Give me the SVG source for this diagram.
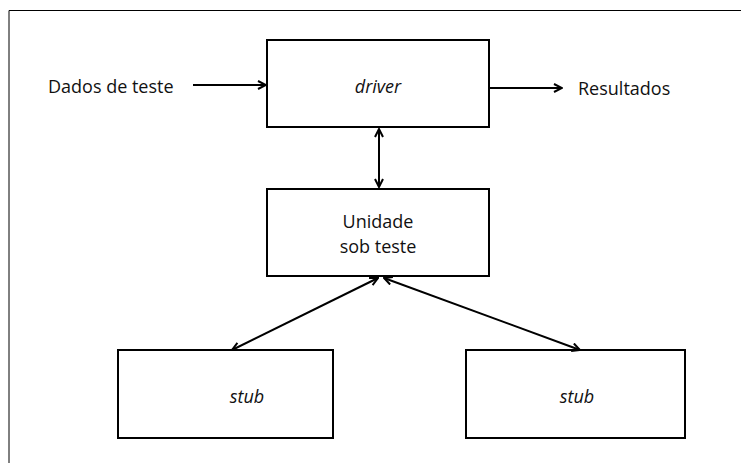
<svg xmlns="http://www.w3.org/2000/svg" width="741" height="463" viewBox="0 0 741 463">
  <style>
    .box { fill: #fff; stroke: #000; stroke-width: 2; }
    .lbl { font-family: "Open Sans", "Liberation Sans", sans-serif; font-size: 18px; fill: #111; }
    .it { font-style: italic; }
    .conn { stroke: #000; stroke-width: 2; fill: none; }
  </style>
  <defs>
    <marker id="arr" viewBox="0 0 10 10" refX="9" refY="5" markerWidth="10" markerHeight="10" markerUnits="userSpaceOnUse" orient="auto-start-reverse">
      <path d="M1,1 L9,5 L1,9" fill="none" stroke="#000" stroke-width="2"/>
    </marker>
  </defs>
  <rect width="741" height="463" fill="#fff"/>
  <!-- outer frame -->
  <path d="M9,463 V10.5 H741" fill="none" stroke="#000" stroke-width="1"/>

  <g id="driver">
    <rect class="box" x="267" y="40" width="222" height="87"/>
    <text class="lbl it" x="378" y="93" text-anchor="middle">driver</text>
  </g>
  <g id="unit">
    <rect class="box" x="267" y="189" width="222" height="87"/>
    <text class="lbl" x="378" y="228" text-anchor="middle">Unidade</text>
    <text class="lbl" x="378" y="253" text-anchor="middle">sob teste</text>
  </g>
  <g id="stub-left">
    <rect class="box" x="118" y="350" width="215" height="88"/>
    <text class="lbl it" x="247" y="403" text-anchor="middle">stub</text>
  </g>
  <g id="stub-right">
    <rect class="box" x="466" y="350" width="219" height="88"/>
    <text class="lbl it" x="577" y="403" text-anchor="middle">stub</text>
  </g>
  <g id="input-label">
    <text class="lbl" x="48" y="93">Dados de teste</text>
  </g>
  <g id="output-label">
    <text class="lbl" x="578" y="95">Resultados</text>
  </g>

  <g id="connectors">
    <line class="conn" x1="193" y1="85" x2="266" y2="85" marker-end="url(#arr)"/>
    <line class="conn" x1="490" y1="88" x2="562" y2="88" marker-end="url(#arr)"/>
    <line class="conn" x1="379" y1="129" x2="379" y2="187" marker-start="url(#arr)" marker-end="url(#arr)"/>
    <line class="conn" x1="378" y1="278" x2="232" y2="350" marker-start="url(#arr)" marker-end="url(#arr)"/>
    <line class="conn" x1="384" y1="278" x2="580" y2="350" marker-start="url(#arr)" marker-end="url(#arr)"/>
  </g>
</svg>
